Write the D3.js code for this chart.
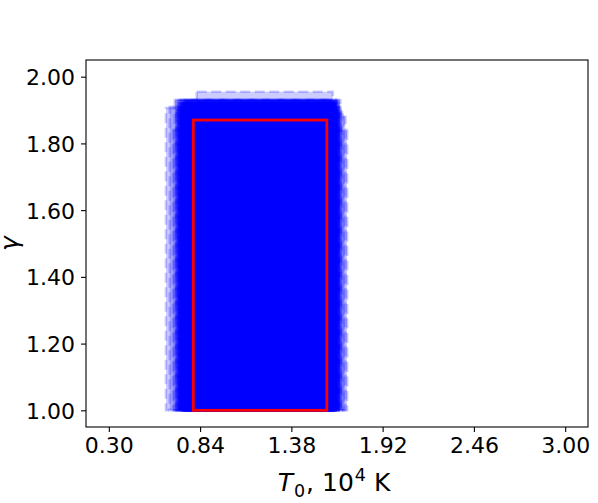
<!DOCTYPE html>
<html>
<head>
<meta charset="utf-8">
<script src="https://cdn.jsdelivr.net/npm/d3@7"></script>
<style>
  html, body { margin: 0; padding: 0; background: #fff; }
  svg { display: block; font-family: "DejaVu Sans", sans-serif; }
</style>
</head>
<body>
<svg id="chart" width="598" height="503"></svg>
<script>
// ---- data ----
const xTicks = [0.30, 0.84, 1.38, 1.92, 2.46, 3.00];
const yTicks = [1.00, 1.20, 1.40, 1.60, 1.80, 2.00];
const xDomain = [0.165, 3.135];
const yDomain = [0.95, 2.05];

// posterior sample boxes (T0 min, T0 max, gamma max); all start at gamma = 1.00
const gammaLow = 1.00;
const boxT0Min = [0.638,0.66,0.68,0.69,0.70,0.70,0.71,0.71,0.72,0.72,0.72,0.73,0.73,0.73,0.74,0.74,0.74,0.75,0.75,0.75,0.76,0.76,0.76,0.77,0.77,0.78,0.78,0.79,0.72,0.71,0.74,0.75,0.73,0.76,0.70,0.74,0.77,0.72,0.75,0.82];
const boxT0Max = [1.64,1.63,1.71,1.67,1.64,1.66,1.62,1.65,1.63,1.66,1.61,1.64,1.67,1.62,1.65,1.63,1.68,1.60,1.64,1.66,1.62,1.65,1.69,1.63,1.61,1.64,1.66,1.62,1.65,1.60,1.70,1.64,1.63,1.67,1.62,1.65,1.61,1.66,1.64,1.625];
const boxGammaMax = [1.906,1.91,1.84,1.93,1.92,1.93,1.91,1.93,1.92,1.90,1.93,1.92,1.91,1.93,1.925,1.92,1.90,1.92,1.93,1.91,1.92,1.93,1.89,1.92,1.91,1.93,1.92,1.90,1.92,1.91,1.88,1.93,1.92,1.91,1.90,1.92,1.93,1.91,1.92,1.955];

// best-fit box
const bestT0 = [0.80, 1.59];
const bestGamma = [1.00, 1.87];

// ---- chart ----
const svg = d3.select("#chart");
const L = 86, R = 588, T = 60, B = 427;
const x = d3.scaleLinear().domain(xDomain).range([L, R]);
const y = d3.scaleLinear().domain(yDomain).range([B, T]);

const boxes = boxT0Min.map((d, i) => ({x0: d, x1: boxT0Max[i], y1: boxGammaMax[i]}));

const plot = svg.append("g");
plot.selectAll("rect.box").data(boxes).enter().append("rect")
  .attr("class", "box")
  .attr("x", d => x(d.x0))
  .attr("y", d => y(d.y1))
  .attr("width", d => x(d.x1) - x(d.x0))
  .attr("height", d => y(gammaLow) - y(d.y1))
  .attr("fill", "#0000ff").attr("fill-opacity", 0.2)
  .attr("stroke", "#0000ff").attr("stroke-opacity", 0.2)
  .attr("stroke-width", 2.6)
  .attr("stroke-dasharray", "10,4.5");

plot.append("rect")
  .attr("x", x(bestT0[0]))
  .attr("y", y(bestGamma[1]))
  .attr("width", x(bestT0[1]) - x(bestT0[0]))
  .attr("height", y(bestGamma[0]) - y(bestGamma[1]))
  .attr("fill", "none")
  .attr("stroke", "#ff0000")
  .attr("stroke-width", 2.8);

// axes
const FONT = "'DejaVu Sans'";
const fmt = d3.format(".2f");
const xAxis = svg.append("g").attr("transform", `translate(0,${B})`)
  .call(d3.axisBottom(x).tickValues(xTicks).tickFormat(fmt).tickSize(5).tickSizeOuter(0).tickPadding(5));
const yAxis = svg.append("g").attr("transform", `translate(${L},0)`)
  .call(d3.axisLeft(y).tickValues(yTicks).tickFormat(fmt).tickSize(5).tickSizeOuter(0).tickPadding(6));
[xAxis, yAxis].forEach(g => {
  g.attr("font-size", null).attr("font-family", null);
  g.select(".domain").remove();
  g.selectAll(".tick line").attr("stroke", "#000").attr("stroke-width", 1.1);
  g.selectAll(".tick text").attr("fill", "#000")
    .attr("font-size", 22).attr("font-family", FONT)
    .style("font-size", "22px").style("font-family", FONT);
});
yAxis.selectAll(".tick text").attr("dy", "0.36em");

// frame
svg.append("rect").attr("x", L).attr("y", T).attr("width", R - L).attr("height", B - T)
  .attr("fill", "none").attr("stroke", "#000").attr("stroke-width", 1.1);

// x label
const xl = svg.append("text").attr("x", 334).attr("y", 491)
  .attr("text-anchor", "middle").style("font-size", "25px").style("font-family", FONT).attr("fill", "#000");
xl.append("tspan").style("font-style", "italic").text("T");
xl.append("tspan").attr("dx", 1).attr("dy", 6).style("font-size", "17.5px").text("0");
xl.append("tspan").attr("dx", 1).attr("dy", -6).text(", 10");
xl.append("tspan").attr("dx", 1).attr("dy", -10).style("font-size", "17.5px").text("4");
xl.append("tspan").attr("dy", 10).text(" K");

// y label
svg.append("text")
  .attr("transform", `translate(18,${(T + B) / 2}) rotate(-90)`)
  .attr("text-anchor", "middle").style("font-size", "25px").style("font-style", "italic").style("font-family", FONT)
  .attr("fill", "#000").text("γ");
</script>
</body>
</html>
